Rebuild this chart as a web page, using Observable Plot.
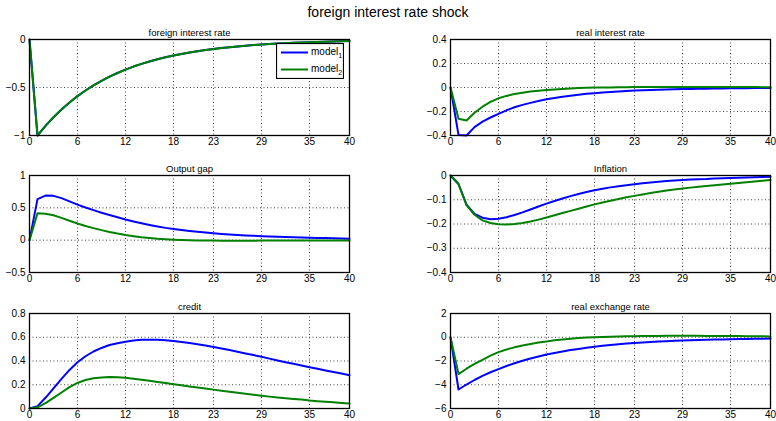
<!DOCTYPE html>
<html><head><meta charset="utf-8">
<script src="https://cdn.jsdelivr.net/npm/d3@7"></script>
<script src="https://cdn.jsdelivr.net/npm/@observablehq/plot@0.6"></script>
<style>
body{margin:0;background:#fff;font-family:"Liberation Sans",Arial,Helvetica,sans-serif;}
#wrap{position:relative;width:776px;height:421px;}
#title{position:absolute;left:0;width:776px;top:4px;text-align:center;font-size:14px;color:#000;}
.panel{position:absolute;}
.panel svg{overflow:visible;}
#legend{position:absolute;left:276px;top:43px;}
</style></head><body>
<div id="wrap"><div id="title">foreign interest rate shock</div></div>
<script>
const periods = d3.range(0, 41);
const xTicks = [0, 6, 12, 18, 23, 29, 35, 40];
const seriesNames = ["model", "model"];
const seriesSubs = ["1", "2"];

const foreignRate1 = [0, -1, -0.9, -0.81, -0.729, -0.656, -0.59, -0.531, -0.478, -0.43, -0.387, -0.349, -0.314, -0.282, -0.254, -0.229, -0.206, -0.185, -0.167, -0.15, -0.135, -0.122, -0.109, -0.098, -0.089, -0.08, -0.072, -0.065, -0.058, -0.052, -0.047, -0.042, -0.038, -0.034, -0.031, -0.028, -0.025, -0.023, -0.02, -0.018, -0.016];
const foreignRate2 = [0, -1, -0.9, -0.81, -0.729, -0.656, -0.59, -0.531, -0.478, -0.43, -0.387, -0.349, -0.314, -0.282, -0.254, -0.229, -0.206, -0.185, -0.167, -0.15, -0.135, -0.122, -0.109, -0.098, -0.089, -0.08, -0.072, -0.065, -0.058, -0.052, -0.047, -0.042, -0.038, -0.034, -0.031, -0.028, -0.025, -0.023, -0.02, -0.018, -0.016];

const realRate1 = [0, -0.395, -0.4, -0.33, -0.285, -0.25, -0.22, -0.19, -0.165, -0.145, -0.128, -0.112, -0.098, -0.087, -0.077, -0.068, -0.06, -0.053, -0.047, -0.042, -0.037, -0.033, -0.029, -0.026, -0.023, -0.021, -0.019, -0.017, -0.015, -0.013, -0.012, -0.011, -0.01, -0.009, -0.008, -0.007, -0.006, -0.006, -0.005, -0.005, -0.004];
const realRate2 = [0, -0.26, -0.275, -0.21, -0.16, -0.12, -0.09, -0.07, -0.055, -0.043, -0.034, -0.027, -0.021, -0.016, -0.012, -0.008, -0.005, -0.003, -0.001, 0, 0.001, 0.002, 0.003, 0.004, 0.004, 0.005, 0.005, 0.005, 0.005, 0.005, 0.005, 0.005, 0.005, 0.005, 0.004, 0.004, 0.004, 0.004, 0.004, 0.003, 0.003];

const outputGap1 = [0, 0.635, 0.69, 0.685, 0.65, 0.6, 0.55, 0.505, 0.465, 0.425, 0.39, 0.355, 0.32, 0.29, 0.262, 0.236, 0.212, 0.19, 0.172, 0.156, 0.142, 0.129, 0.117, 0.106, 0.097, 0.088, 0.08, 0.073, 0.067, 0.061, 0.056, 0.052, 0.048, 0.044, 0.041, 0.038, 0.035, 0.032, 0.029, 0.026, 0.022];
const outputGap2 = [0, 0.415, 0.41, 0.385, 0.345, 0.3, 0.258, 0.22, 0.186, 0.155, 0.127, 0.102, 0.08, 0.062, 0.046, 0.033, 0.022, 0.014, 0.007, 0.002, -0.002, -0.004, -0.006, -0.007, -0.008, -0.008, -0.008, -0.008, -0.008, -0.007, -0.007, -0.007, -0.006, -0.006, -0.006, -0.005, -0.005, -0.005, -0.004, -0.004, -0.004];

const inflation1 = [0, -0.035, -0.12, -0.158, -0.174, -0.18, -0.178, -0.172, -0.163, -0.152, -0.14, -0.128, -0.116, -0.105, -0.095, -0.085, -0.076, -0.068, -0.061, -0.055, -0.049, -0.044, -0.04, -0.036, -0.032, -0.029, -0.026, -0.023, -0.021, -0.019, -0.017, -0.015, -0.014, -0.012, -0.011, -0.01, -0.009, -0.008, -0.007, -0.006, -0.005];
const inflation2 = [0, -0.035, -0.122, -0.162, -0.185, -0.196, -0.201, -0.202, -0.2, -0.196, -0.19, -0.182, -0.173, -0.164, -0.155, -0.146, -0.137, -0.128, -0.119, -0.111, -0.104, -0.097, -0.09, -0.084, -0.078, -0.072, -0.067, -0.062, -0.058, -0.054, -0.05, -0.046, -0.043, -0.04, -0.037, -0.034, -0.031, -0.028, -0.025, -0.022, -0.019];

const credit1 = [0, 0.02, 0.09, 0.17, 0.25, 0.325, 0.39, 0.44, 0.48, 0.51, 0.535, 0.55, 0.562, 0.572, 0.578, 0.58, 0.578, 0.574, 0.568, 0.56, 0.551, 0.541, 0.53, 0.518, 0.505, 0.492, 0.478, 0.464, 0.45, 0.435, 0.42, 0.405, 0.39, 0.376, 0.362, 0.348, 0.334, 0.32, 0.307, 0.294, 0.28];
const credit2 = [0, 0.01, 0.045, 0.09, 0.135, 0.18, 0.215, 0.24, 0.255, 0.262, 0.265, 0.264, 0.258, 0.25, 0.242, 0.233, 0.224, 0.214, 0.205, 0.196, 0.186, 0.177, 0.168, 0.159, 0.15, 0.141, 0.132, 0.124, 0.116, 0.108, 0.1, 0.093, 0.087, 0.081, 0.075, 0.067, 0.062, 0.057, 0.052, 0.047, 0.043];

const exchangeRate1 = [0, -4.4, -3.98, -3.6, -3.25, -2.95, -2.68, -2.42, -2.19, -1.98, -1.79, -1.62, -1.46, -1.32, -1.2, -1.08, -0.98, -0.88, -0.8, -0.72, -0.65, -0.59, -0.53, -0.48, -0.44, -0.4, -0.36, -0.33, -0.3, -0.27, -0.25, -0.23, -0.21, -0.19, -0.18, -0.165, -0.15, -0.14, -0.13, -0.12, -0.11];
const exchangeRate2 = [0, -3.1, -2.65, -2.25, -1.9, -1.55, -1.25, -1.03, -0.85, -0.7, -0.56, -0.45, -0.35, -0.26, -0.18, -0.12, -0.07, -0.03, 0, 0.03, 0.05, 0.07, 0.08, 0.09, 0.1, 0.11, 0.11, 0.12, 0.12, 0.12, 0.12, 0.12, 0.11, 0.11, 0.11, 0.1, 0.1, 0.09, 0.09, 0.08, 0.07];

const panelTitles = ["foreign interest rate", "real interest rate", "Output gap", "Inflation", "credit", "real exchange rate"];
const yTickSets = [
  [-1, -0.5, 0],
  [-0.4, -0.2, 0, 0.2, 0.4],
  [-0.5, 0, 0.5, 1],
  [-0.4, -0.3, -0.2, -0.1, 0],
  [0, 0.2, 0.4, 0.6, 0.8],
  [-6, -4, -2, 0, 2]
];
const seriesPairs = [
  [foreignRate1, foreignRate2],
  [realRate1, realRate2],
  [outputGap1, outputGap2],
  [inflation1, inflation2],
  [credit1, credit2],
  [exchangeRate1, exchangeRate2]
];
const colors = ["#0000ff", "#008000"];

const rowTops = [39, 175, 313];
const rowHeights = [96, 97, 95];
const fmt = d => d === 0 ? "0" : (d < 0 ? "\u2212" : "") + String(Math.abs(d));

const wrap = document.getElementById("wrap");
panelTitles.forEach((title, k) => {
  const row = Math.floor(k / 2), col = k % 2;
  const width = col === 0 ? 380 : 386;
  const marginLeft = col === 0 ? 29 : 60;
  const marginRight = col === 0 ? 31 : 6;
  const marginTop = 19, marginBottom = 13;
  const yt = yTickSets[k];
  const [s1, s2] = seriesPairs[k];
  const d1 = periods.map((p, i) => ({p, v: s1[i]}));
  const d2 = periods.map((p, i) => ({p, v: s2[i]}));
  const chart = Plot.plot({
    width,
    height: marginTop + rowHeights[row] + marginBottom,
    marginTop, marginBottom, marginLeft, marginRight,
    style: {fontFamily: '"Liberation Sans", Arial, sans-serif', fontSize: "10px", color: "#000", background: "transparent", overflow: "visible"},
    x: {domain: [0, 40], ticks: xTicks, tickSize: 0, tickPadding: 2, label: null, tickFormat: d => String(d)},
    y: {domain: [yt[0], yt[yt.length - 1]], ticks: yt, tickSize: 0, tickPadding: 4, label: null, tickFormat: fmt},
    marks: [
      Plot.ruleX(xTicks.slice(1, -1), {stroke: "#444", strokeWidth: 1, strokeDasharray: "1,2.5"}),
      Plot.ruleY(yt.slice(1, -1), {stroke: "#444", strokeWidth: 1, strokeDasharray: "1,2.5"}),
      Plot.line(d1, {x: "p", y: "v", stroke: colors[0], strokeWidth: 2}),
      Plot.line(d2, {x: "p", y: "v", stroke: colors[1], strokeWidth: 2}),
      Plot.frame({stroke: "#000", strokeWidth: 1.3}),
      Plot.text([title], {frameAnchor: "top", dy: -10, text: d => d, fontSize: 9.5, fill: "#000"})
    ]
  });
  const div = document.createElement("div");
  div.className = "panel";
  div.style.left = (col === 0 ? 0 : 390) + "px";
  div.style.top = (rowTops[row] - marginTop) + "px";
  div.appendChild(chart);
  wrap.appendChild(div);
});

// legend (in first panel)
const lg = document.createElement("div");
lg.id = "legend";
const ns = "http://www.w3.org/2000/svg";
let svgTxt = `<svg xmlns="${ns}" width="68" height="36" style="font-family:'Liberation Sans',Arial,sans-serif;font-size:10px">
<rect x="0.5" y="0.5" width="67" height="35" fill="#fff" stroke="#000" stroke-width="1.2"/>`;
seriesNames.forEach((n, i) => {
  const y = 9.5 + i * 17;
  svgTxt += `<line x1="5" x2="32" y1="${y}" y2="${y}" stroke="${colors[i]}" stroke-width="2"/>`;
  svgTxt += `<text x="35" y="${y + 2}" fill="#000">${n}<tspan dy="3" font-size="7">${seriesSubs[i]}</tspan></text>`;
});
svgTxt += `</svg>`;
lg.innerHTML = svgTxt;
wrap.appendChild(lg);
</script>
</body></html>
